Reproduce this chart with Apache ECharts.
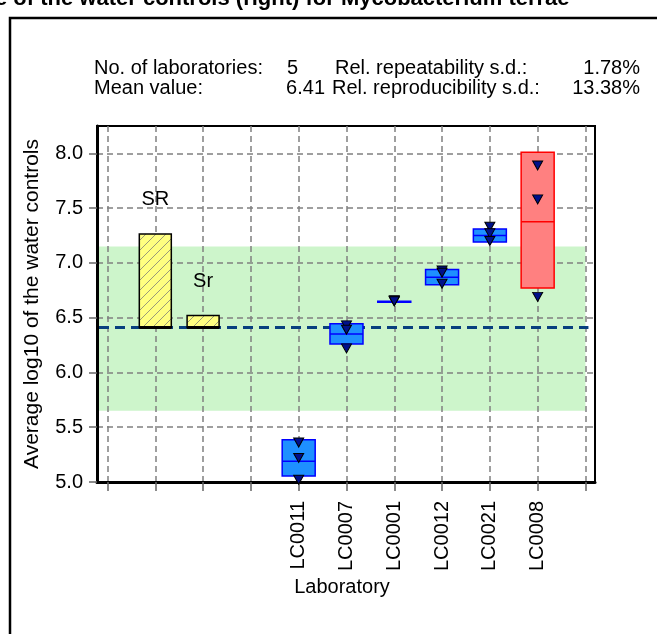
<!DOCTYPE html>
<html><head><meta charset="utf-8">
<script src="https://cdn.jsdelivr.net/npm/echarts@6/dist/echarts.min.js"></script>
<style>html,body{margin:0;padding:0;background:#fff}#c{width:657px;height:634px}</style>
</head><body><div id="c"></div>
<script>
// ---- data ----
const labNames = ['LC0011', 'LC0007', 'LC0001', 'LC0012', 'LC0021', 'LC0008'];
const labPositions = [4, 5, 6, 7, 8, 9];
const boxLow  = [5.055, 6.26, 6.64, 6.80, 7.19, 6.77];
const boxMean = [5.19, 6.35, 6.645, 6.87, 7.25, 7.375];
const boxHigh = [5.385, 6.445, 6.65, 6.94, 7.31, 8.01];
const boxOutlier = [false, false, false, false, false, true];
const replicate1 = [5.36, 6.43, 6.66, 6.93, 7.33, 7.89];
const replicate2 = [5.22, 6.39, 6.65, 6.91, 7.27, 7.58];
const replicate3 = [5.02, 6.22, 6.65, 6.81, 7.20, 6.69];
const sdLabels = ['SR', 'Sr'];
const sdPositions = [1, 2];
const sdTops = [7.265, 6.52];
const meanValue = 6.41;
const bandLow = 5.65;
const bandHigh = 7.15;
const bandEnd = 10;
const xMin = -0.22, xMax = 10.2;
const yMin = 5.0, yMax = 8.25;
const xTicks = [0, 1, 2, 3, 4, 5, 6, 7, 8, 9, 10];
const yTicks = [5.0, 5.5, 6.0, 6.5, 7.0, 7.5, 8.0];
const numLabs = '5';
const meanText = '6.41';
const repeatability = '1.78%';
const reproducibility = '13.38%';
const titleText = 'e of the water controls (right) for Mycobacterium terrae';

// ---- styling helpers ----
const FF = '"Liberation Sans", Arial, sans-serif';
const FS = 20;
const hatch = document.createElement('canvas');
hatch.width = 10; hatch.height = 10;
(function () {
  const g = hatch.getContext('2d');
  g.fillStyle = '#ffff80'; g.fillRect(0, 0, 10, 10);
  g.strokeStyle = '#9a9a7a'; g.lineWidth = 1;
  g.beginPath();
  g.moveTo(-1, 11); g.lineTo(11, -1);
  g.moveTo(-1, 1); g.lineTo(1, -1);
  g.moveTo(9, 11); g.lineTo(11, 9);
  g.stroke();
})();

const chart = echarts.init(document.getElementById('c'), null, {renderer: 'canvas'});

const boxData = labPositions.map((p, i) => [p, boxLow[i], boxMean[i], boxHigh[i], boxOutlier[i] ? 1 : 0]);
const repData = [];
labPositions.forEach((p, i) => {
  repData.push([p, replicate1[i]], [p, replicate2[i]], [p, replicate3[i]]);
});

function txt(x, y, text, align) {
  return {type: 'text', x: x, y: y, style: {text: text, fontSize: FS, fontFamily: FF, fill: '#000', align: align || 'left', verticalAlign: 'middle'}};
}

const option = {
  animation: false,
  backgroundColor: '#fff',
  grid: {left: 97, right: 62, top: 126, bottom: 152, show: true, borderColor: '#000', borderWidth: 2, containLabel: false, outerBoundsMode: 'none', z: 1},
  xAxis: {
    type: 'value', min: xMin, max: xMax, z: 1,
    axisLine: {show: true, onZero: false, lineStyle: {color: '#000', width: 3}},
    axisTick: {show: true, customValues: xTicks, length: 9, lineStyle: {color: '#666', width: 1.5}},
    axisLabel: {customValues: labPositions, rotate: 90, margin: 19, fontSize: FS, fontFamily: FF, color: '#000',
      formatter: v => labNames[labPositions.indexOf(v)] || ''},
    splitLine: {show: true, lineStyle: {color: '#808080', type: [6, 4], width: 1.5}}
  },
  yAxis: {
    type: 'value', min: yMin, max: yMax, z: 1,
    name: 'Average log10 of the water controls', nameLocation: 'middle', nameGap: 54,
    nameTextStyle: {fontSize: 21, fontFamily: FF, color: '#000'},
    axisLine: {show: true, onZero: false, lineStyle: {color: '#000', width: 3}},
    axisTick: {show: true, customValues: yTicks, length: 8, lineStyle: {color: '#666', width: 1.5}},
    axisLabel: {customValues: yTicks, margin: 14, fontSize: FS, fontFamily: FF, color: '#000',
      formatter: v => Number(v).toFixed(1)},
    splitLine: {show: true, lineStyle: {color: '#808080', type: [6, 4], width: 1.5}}
  },
  series: [
    { // reproducibility band
      type: 'custom', z: 0, silent: true,
      data: [[xMin, bandEnd, bandLow, bandHigh]],
      renderItem: (params, api) => {
        const a = api.coord([api.value(0), api.value(3)]);
        const b = api.coord([api.value(1), api.value(2)]);
        return {type: 'rect', shape: {x: a[0], y: a[1], width: b[0] - a[0], height: b[1] - a[1]}, style: {fill: '#cdf5cb'}};
      }
    },
    { // mean line
      type: 'custom', z: 2, silent: true,
      data: [[xMin, bandEnd, meanValue]],
      renderItem: (params, api) => {
        const a = api.coord([api.value(0), api.value(2)]);
        const b = api.coord([api.value(1), api.value(2)]);
        return {type: 'line', shape: {x1: a[0] + 2, y1: a[1], x2: b[0] + 3, y2: b[1]}, style: {stroke: '#08407e', lineWidth: 3, lineDash: [10, 6]}};
      }
    },
    { // SR / Sr bars
      type: 'custom', z: 3,
      data: sdPositions.map((p, i) => [p, sdTops[i]]),
      renderItem: (params, api) => {
        const x = api.value(0), top = api.value(1);
        const p0 = api.coord([x, meanValue]);
        const p1 = api.coord([x, top]);
        const w = 32;
        return {type: 'group', children: [
          {type: 'rect', shape: {x: p0[0] - w / 2, y: p1[1], width: w, height: p0[1] - p1[1]},
            style: {fill: {image: hatch, repeat: 'repeat'}, stroke: '#000', lineWidth: 1.5}},
          {type: 'line', shape: {x1: p0[0] - w / 2, y1: p0[1], x2: p0[0] + w / 2, y2: p0[1]}, style: {stroke: '#000', lineWidth: 3}},
          {type: 'text', x: p1[0], y: p1[1] - 34,
            style: {text: sdLabels[params.dataIndex], fontSize: FS, fontFamily: FF, fill: '#000', align: 'center', verticalAlign: 'middle'}}
        ]};
      }
    },
    { // lab boxes
      type: 'custom', z: 3,
      data: boxData,
      renderItem: (params, api) => {
        const x = api.value(0);
        const lo = api.coord([x, api.value(1)]);
        const mid = api.coord([x, api.value(2)]);
        const hi = api.coord([x, api.value(3)]);
        const red = api.value(4) === 1;
        const w = 33;
        const stroke = red ? '#ff0000' : '#0000ff';
        const fill = red ? '#ff8080' : '#1e90ff';
        return {type: 'group', children: [
          {type: 'rect', shape: {x: lo[0] - w / 2, y: hi[1], width: w, height: lo[1] - hi[1]}, style: {fill: fill, stroke: stroke, lineWidth: 1.5}},
          {type: 'line', shape: {x1: lo[0] - w / 2, y1: mid[1], x2: lo[0] + w / 2, y2: mid[1]}, style: {stroke: stroke, lineWidth: 1.5}}
        ]};
      }
    },
    { // replicate results
      type: 'scatter', z: 4,
      symbol: 'triangle', symbolRotate: 180, symbolSize: [10, 9],
      itemStyle: {color: '#00108a', borderColor: '#000', borderWidth: 1, opacity: 1},
      data: repData
    }
  ],
  graphic: [
    {type: 'rect', shape: {x: 10, y: 18, width: 800, height: 800}, style: {fill: null, stroke: '#000', lineWidth: 2.5}, silent: true},
    {type: 'text', x: -5, y: -1.5, style: {text: titleText, font: 'bold 22px ' + FF, fill: '#000', verticalAlign: 'middle'}},
    txt(94, 68, 'No. of laboratories:'),
    txt(287, 68, numLabs),
    txt(335, 68, 'Rel. repeatability s.d.:'),
    txt(640, 68, repeatability, 'right'),
    txt(94, 88, 'Mean value:'),
    txt(325, 88, meanText, 'right'),
    txt(332, 88, 'Rel. reproducibility s.d.:'),
    txt(640, 88, reproducibility, 'right'),
    txt(342, 587, 'Laboratory', 'center')
  ]
};
chart.setOption(option);
</script>
</body></html>
